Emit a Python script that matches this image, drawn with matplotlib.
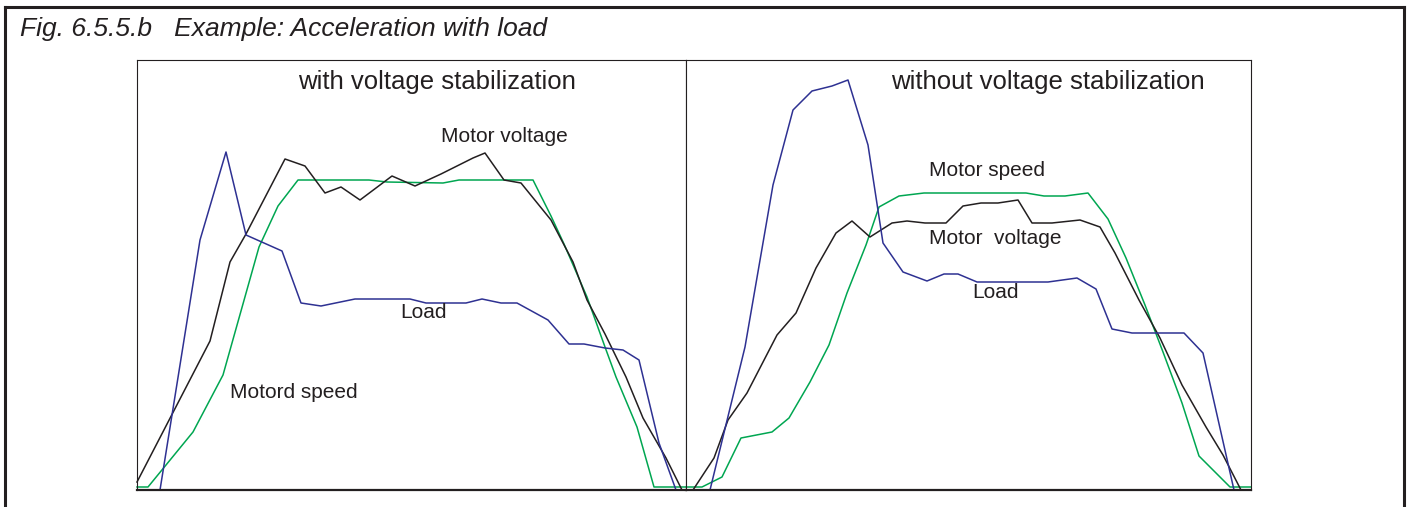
import matplotlib.pyplot as plt
from matplotlib.lines import Line2D

plt.rcParams['font.family'] = ['Liberation Sans', 'DejaVu Sans']

# values (x = time steps in px units, y = level)
# left panel: with voltage stabilization
l_speed_x = [0, 11, 56, 86, 122, 141, 161, 232, 250, 306, 322, 396, 414, 427, 450, 468, 479, 500, 517, 548]
l_speed_y = [3, 3, 58, 115, 243, 284, 310, 310, 308, 307, 310, 310, 274, 246, 193, 143, 113, 63, 3, 3]

l_volt_x = [0, 73, 93, 109, 148, 168, 188, 204, 223, 255, 278, 304, 336, 348, 367, 384, 414, 436, 450,
            468, 489, 506, 529, 545, 548]
l_volt_y = [8, 149, 228, 256, 331, 324, 297, 303, 290, 314, 304, 316, 332, 337, 310, 307, 270, 228, 190,
            156, 113, 72, 32, 0, 0]

l_load_x = [0, 23, 63, 89, 109, 145, 164, 184, 218, 273, 289, 329, 345, 364, 380, 411, 432, 447, 468,
            486, 502, 522, 539, 548]
l_load_y = [0, 0, 250, 338, 255, 239, 187, 184, 191, 191, 187, 187, 191, 187, 187, 170, 146, 146, 142,
            140, 130, 47, 0, 0]

# right panel: without voltage stabilization
r_speed_x = [0, 16, 36, 55, 86, 103, 124, 143, 161, 180, 193, 213, 238, 340, 358, 379, 402, 422, 440,
             459, 477, 496, 513, 544, 565]
r_speed_y = [3, 3, 13, 52, 58, 72, 108, 145, 197, 245, 283, 294, 297, 297, 294, 294, 297, 271, 232,
             185, 138, 87, 34, 3, 3]

r_volt_x = [0, 7, 28, 42, 61, 91, 110, 130, 150, 166, 184, 206, 221, 239, 260, 277, 295, 312, 332, 346,
            366, 394, 414, 429, 453, 474, 496, 520, 537, 555, 565]
r_volt_y = [0, 0, 32, 70, 97, 155, 177, 222, 257, 269, 253, 267, 269, 267, 267, 284, 287, 287, 290, 267,
            267, 270, 263, 237, 190, 152, 105, 63, 35, 0, 0]

r_load_x = [0, 24, 59, 87, 107, 126, 146, 162, 182, 197, 217, 241, 258, 272, 291, 362, 391, 410, 426,
            446, 498, 517, 548, 565]
r_load_y = [0, 0, 143, 305, 380, 399, 404, 410, 345, 247, 218, 209, 216, 216, 208, 208, 212, 201, 161,
            157, 157, 137, 0, 0]

green = '#00a651'
blue = '#2e3192'
ink = '#231f20'

fig = plt.figure(figsize=(14.09, 5.07), dpi=100)

# outer frame (open at the bottom)
W, H = 1409, 507
fx = lambda px: px / W
fy = lambda py: 1 - py / H
for xs, ys in [([5, 5], [507, 7]), ([5, 1404], [7, 7]), ([1404, 1404], [7, 507])]:
    fig.add_artist(Line2D([fx(x) for x in xs], [fy(y) for y in ys], color=ink, lw=2.2))

fig.text(fx(20), fy(29), 'Fig. 6.5.5.b   Example: Acceleration with load', style='italic',
         fontsize=19, va='center', ha='left', color=ink)

ax1 = fig.add_axes([fx(137), fy(490), (686 - 137) / W, 430 / H])
ax2 = fig.add_axes([fx(686), fy(490), (1251 - 686) / W, 430 / H])

def style(ax, xmax):
    ax.set_xlim(0, xmax)
    ax.set_ylim(0, 430)
    ax.set_xticks([])
    ax.set_yticks([])
    for s in ax.spines.values():
        s.set_linewidth(0.8)
        s.set_color(ink)
    ax.spines['bottom'].set_linewidth(1.6)

style(ax1, 549)
style(ax2, 565)

ax1.plot(l_speed_x, l_speed_y, color=green, lw=1.1, clip_on=False)
ax1.plot(l_volt_x, l_volt_y, color=ink, lw=1.1, clip_on=False)
ax1.plot(l_load_x, l_load_y, color=blue, lw=1.1, clip_on=False)

ax2.plot(r_speed_x, r_speed_y, color=green, lw=1.1, clip_on=False)
ax2.plot(r_volt_x, r_volt_y, color=ink, lw=1.1, clip_on=False)
ax2.plot(r_load_x, r_load_y, color=blue, lw=1.1, clip_on=False)

ax1.text(300, 408, 'with voltage stabilization', ha='center', va='center', fontsize=18.5, color=ink)
ax2.text(362, 408, 'without voltage stabilization', ha='center', va='center', fontsize=18.5, color=ink)

ax1.text(367, 354, 'Motor voltage', ha='center', va='center', fontsize=15, color=ink)
ax1.text(287, 178, 'Load', ha='center', va='center', fontsize=15, color=ink)
ax1.text(157, 98, 'Motord speed', ha='center', va='center', fontsize=15, color=ink)

ax2.text(301, 320, 'Motor speed', ha='center', va='center', fontsize=15, color=ink)
ax2.text(309, 252, 'Motor  voltage', ha='center', va='center', fontsize=15, color=ink)
ax2.text(309, 198, 'Load', ha='center', va='center', fontsize=15, color=ink)

fig.savefig('out.png', dpi=100)
